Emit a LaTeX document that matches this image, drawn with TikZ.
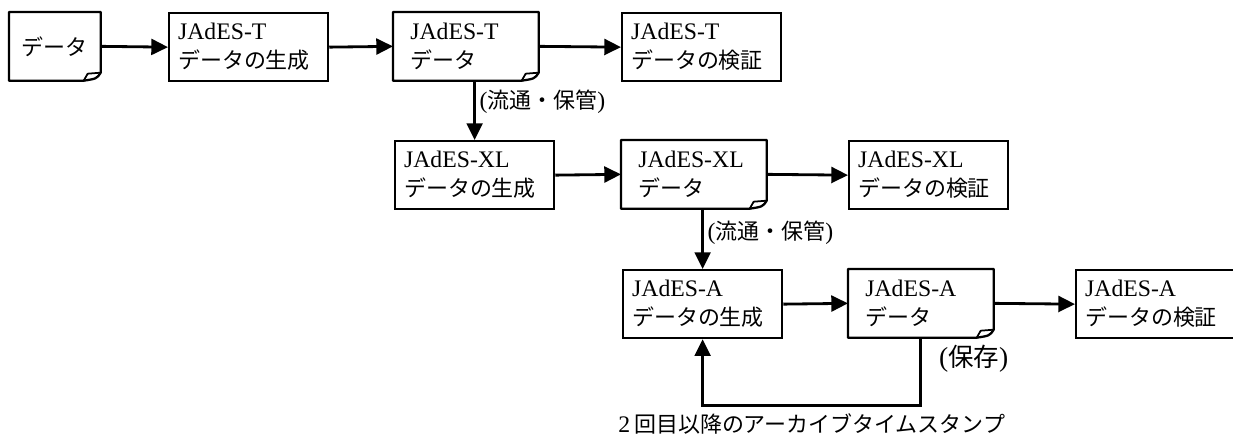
\documentclass[tikz,border=0pt]{standalone}
\usepackage{fontspec}
\setmainfont[Scale = 1.08]{Liberation Serif}
\newfontfamily\jpfont{Noto Sans CJK JP}
\usetikzlibrary{arrows.meta, calc}
\newcommand{\jp}[1]{{\jpfont #1}}
\newcommand{\dogear}[1]{%
    \draw[line width = 1.3pt, line join = round](#1.north west) -- (#1.north east) -- ($(#1.south east) + (0, -8)$) .. controls ($(#1.south east) + (-4, -2)$) .. ($(#1.south east) + (-17, 0)$) -- (#1.south west) -- cycle;
    \draw[line width = 1pt, line join = round]($(#1.south east) + (-17, 0)$) -- ($(#1.south east) + (-13, -7)$) -- ($(#1.south east) + (0, -8)$);
}

\begin{document}
\begin{tikzpicture}[x = 0.02cm, y = -0.02cm,
        box_font/.style = {font = \fontsize{12.5}{16.5}\selectfont},
        proc_box/.style = {box_font, draw, line width = 1.3pt, anchor = north west, align = left, minimum height = 1.36cm, inner ysep = 0pt, inner xsep = 0.18cm, text width = 2.82cm},
        data_box/.style = {box_font, anchor = north west, align = left, minimum height = 1.36cm, inner ysep = 0pt, inner xsep = 0.34cm, text width = 2.22cm},
        flow/.style = {line width = 1.6pt, -{Triangle[length = 9.5pt, width = 9pt]}},
        side_label/.style = {font = \fontsize{12.5}{15}\selectfont, inner sep = 2pt}]
    \useasboundingbox (0, 0) rectangle (1233, 436);

    % first row
    \node[data_box, align = center, inner xsep = 0.12cm, text width = 1.58cm] (data_in) at (9, 12) {\jp{データ}};
    \dogear{data_in}
    \node[proc_box] (t_gen) at (168, 12) {JAdES-T\\\jp{データの生成}};
    \node[data_box] (t_data) at (393, 12) {JAdES-T\\\jp{データ}};
    \dogear{t_data}
    \node[proc_box] (t_verify) at (621, 12) {JAdES-T\\\jp{データの検証}};

    % second row
    \node[proc_box] (xl_gen) at (394, 140) {JAdES-XL\\\jp{データの生成}};
    \node[data_box] (xl_data) at (621, 140) {JAdES-XL\\\jp{データ}};
    \dogear{xl_data}
    \node[proc_box] (xl_verify) at (848, 140) {JAdES-XL\\\jp{データの検証}};

    % third row
    \node[proc_box] (a_gen) at (622, 269) {JAdES-A\\\jp{データの生成}};
    \node[data_box] (a_data) at (848, 269) {JAdES-A\\\jp{データ}};
    \dogear{a_data}
    \node[proc_box, text width = 3cm] (a_verify) at (1075, 269) {JAdES-A\\\jp{データの検証}};

    \draw[flow](data_in.east) -- (t_gen.west);
    \draw[flow](t_gen.east) -- (t_data.west);
    \draw[flow](t_data.east) -- (t_verify.west);
    \draw[flow](t_data.south -| xl_gen.north) -- node[pos = 0.35, right, side_label] {(\jp{流通・保管})} (xl_gen.north);

    \draw[flow](xl_gen.east) -- (xl_data.west);
    \draw[flow](xl_data.east) -- (xl_verify.west);
    \draw[flow](xl_data.south -| a_gen.north) -- node[pos = 0.4, right, side_label] {(\jp{流通・保管})} (a_gen.north);

    \draw[flow](a_gen.east) -- (a_data.west);
    \draw[flow](a_data.east) -- (a_verify.west);
    \draw[flow](a_data.south) -- ++(0, 68) coordinate (loop_corner) -| (a_gen.south) node[pos = 0.25, below, side_label, inner sep = 3.5pt] {2\,\jp{回目以降のアーカイブタイムスタンプ}};
    \node[anchor = north west, inner sep = 0pt, font = \fontsize{14.5}{17}\selectfont] (keep_label) at ($(a_data.south east) + (-55, 7)$) {(\jp{保存})};
\end{tikzpicture}
\end{document}
